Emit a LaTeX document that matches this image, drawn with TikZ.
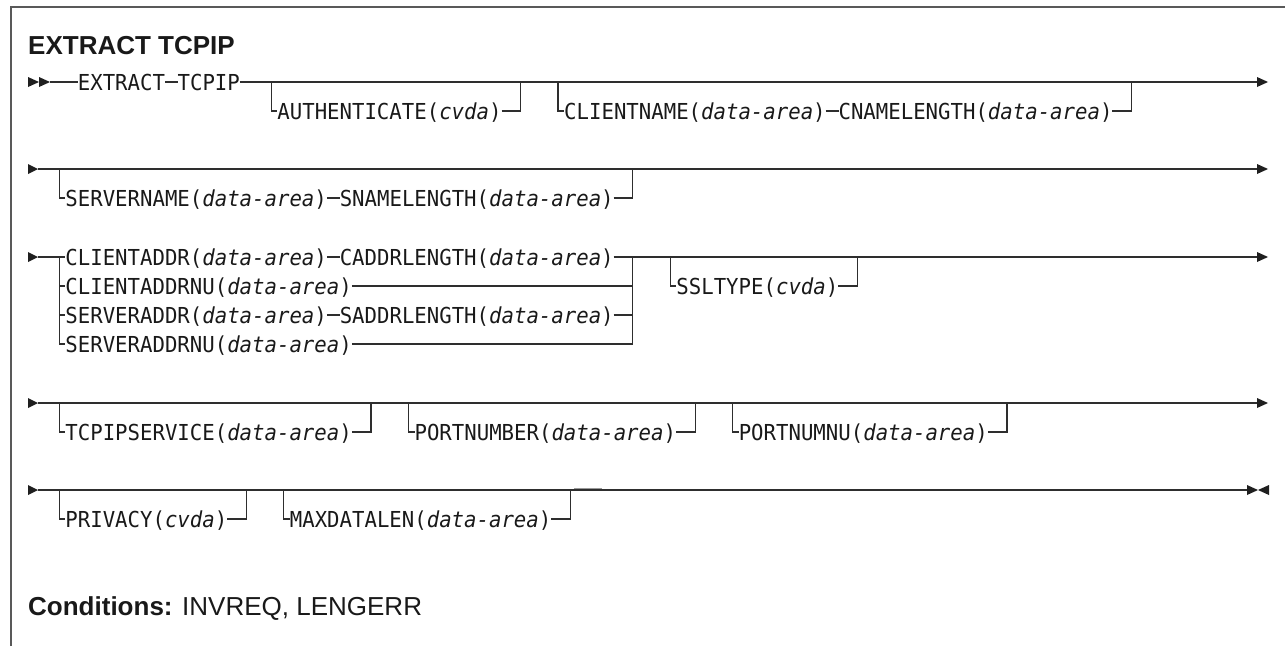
\documentclass[tikz,border=0pt]{standalone}
\usepackage{fontspec}
\setmainfont{Liberation Sans}
\newfontfamily\diagfont[FakeStretch=0.94]{DejaVu Sans Mono}
\newcommand\cellx[1]{28+12.47*(#1)}
\newcommand\cellm[1]{28+12.47*(#1+0.5)}
\newcommand\rarrow[3]{\fill[tri] ({#1},{#3-5}) -- ({#2},{#3}) -- ({#1},{#3+5}) -- cycle;}
\tikzset{
  ln/.style={line width=1.2pt, draw=black!82},
  lbl/.style={inner sep=0pt, outer sep=0pt, anchor=west, text height=16pt, text depth=0pt,
              font=\diagfont\fontsize{22}{26}\selectfont, text=black!90},
  tri/.style={fill=black!88},
  frameln/.style={line width=1.5pt, draw=black!65},
}
\begin{document}
\begin{tikzpicture}[x=1pt,y=-1pt]
\useasboundingbox (0,0) rectangle (1285,646);
% frame
\draw[frameln] (11,646) -- (11,7) -- (1285,7);
% title
\node[anchor=base west, inner sep=0pt, font=\bfseries\fontsize{26}{30}\selectfont, text=black!90] (title) at (28,54) {EXTRACT TCPIP};

% ---------- Row 1 ----------
\rarrow{28}{39}{82}\rarrow{39}{50}{82}
\coordinate (s1) at (50,82);
\coordinate (e1) at (1257,82);
\rarrow{1257}{1268}{82}
\node[lbl] (extract) at ({\cellx{4}},82) {EXTRACT};
\node[lbl] (tcpip) at ({\cellx{12}},82) {TCPIP};
\draw[ln] (s1) -- (extract.west);
\draw[ln] (extract.east) -- (tcpip.west);
\draw[ln] (tcpip.east) -- (e1);
\coordinate (a1) at ({\cellm{19}},82);
\coordinate (a2) at ({\cellm{39}},82);
\node[lbl] (auth) at ({\cellx{20}},111) {AUTHENTICATE(\textit{cvda})};
\draw[ln] (a1) |- (auth.west);
\draw[ln] (auth.east) -| (a2);
\coordinate (c1) at ({\cellm{42}},82);
\coordinate (c2) at ({\cellm{88}},82);
\node[lbl] (cname) at ({\cellx{43}},111) {CLIENTNAME(\textit{data-area})};
\node[lbl] (cnamelen) at ({\cellx{65}},111) {CNAMELENGTH(\textit{data-area})};
\draw[ln] (c1) |- (cname.west);
\draw[ln] (cname.east) -- (cnamelen.west);
\draw[ln] (cnamelen.east) -| (c2);

% ---------- Row 2 ----------
\rarrow{28}{38}{169}
\coordinate (s2) at (38,169);
\coordinate (e2) at (1257,169);
\rarrow{1257}{1268}{169}
\draw[ln] (s2) -- (e2);
\coordinate (b2a) at ({\cellm{2}},169);
\coordinate (b2b) at ({\cellm{48}},169);
\node[lbl] (sname) at ({\cellx{3}},198) {SERVERNAME(\textit{data-area})};
\node[lbl] (snamelen) at ({\cellx{25}},198) {SNAMELENGTH(\textit{data-area})};
\draw[ln] (b2a) |- (sname.west);
\draw[ln] (sname.east) -- (snamelen.west);
\draw[ln] (snamelen.east) -| (b2b);

% ---------- Row 3 ----------
\rarrow{28}{38}{257}
\coordinate (s3) at (38,257);
\coordinate (e3) at (1257,257);
\rarrow{1257}{1268}{257}
\coordinate (jL) at ({\cellm{2}},257);
\coordinate (jR) at ({\cellm{48}},257);
\node[lbl] (caddr) at ({\cellx{3}},257) {CLIENTADDR(\textit{data-area})};
\node[lbl] (caddrlen) at ({\cellx{25}},257) {CADDRLENGTH(\textit{data-area})};
\node[lbl] (caddrnu) at ({\cellx{3}},286) {CLIENTADDRNU(\textit{data-area})};
\node[lbl] (saddr) at ({\cellx{3}},315) {SERVERADDR(\textit{data-area})};
\node[lbl] (saddrlen) at ({\cellx{25}},315) {SADDRLENGTH(\textit{data-area})};
\node[lbl] (saddrnu) at ({\cellx{3}},344) {SERVERADDRNU(\textit{data-area})};
\draw[ln] (s3) -- (caddr.west);
\draw[ln] (caddr.east) -- (caddrlen.west);
\draw[ln] (caddrlen.east) -- (jR);
\draw[ln] (jL) |- (saddrnu.west);
\draw[ln] (jL |- caddrnu.west) -- (caddrnu.west);
\draw[ln] (jL |- saddr.west) -- (saddr.west);
\draw[ln] (caddrnu.east) -- (jR |- caddrnu.east);
\draw[ln] (saddr.east) -- (saddrlen.west);
\draw[ln] (saddrlen.east) -- (jR |- saddrlen.east);
\draw[ln] (saddrnu.east) -| (jR);
\draw[ln] (jR) -- (e3);
\coordinate (k1) at ({\cellm{51}},257);
\coordinate (k2) at ({\cellm{66}},257);
\node[lbl] (ssl) at ({\cellx{52}},286) {SSLTYPE(\textit{cvda})};
\draw[ln] (k1) |- (ssl.west);
\draw[ln] (ssl.east) -| (k2);

% ---------- Row 4 ----------
\rarrow{28}{38}{403}
\coordinate (s4) at (38,403);
\coordinate (e4) at (1257,403);
\rarrow{1257}{1268}{403}
\draw[ln] (s4) -- (e4);
\coordinate (t1) at ({\cellm{2}},403);
\coordinate (t2) at ({\cellm{27}},403);
\node[lbl] (tcpsvc) at ({\cellx{3}},432) {TCPIPSERVICE(\textit{data-area})};
\draw[ln] (t1) |- (tcpsvc.west);
\draw[ln] (tcpsvc.east) -| (t2);
\coordinate (p1) at ({\cellm{30}},403);
\coordinate (p2) at ({\cellm{53}},403);
\node[lbl] (portnum) at ({\cellx{31}},432) {PORTNUMBER(\textit{data-area})};
\draw[ln] (p1) |- (portnum.west);
\draw[ln] (portnum.east) -| (p2);
\coordinate (q1) at ({\cellm{56}},403);
\coordinate (q2) at ({\cellm{78}},403);
\node[lbl] (portnumnu) at ({\cellx{57}},432) {PORTNUMNU(\textit{data-area})};
\draw[ln] (q1) |- (portnumnu.west);
\draw[ln] (portnumnu.east) -| (q2);

% ---------- Row 5 ----------
\rarrow{28}{38}{490}
\coordinate (s5) at (38,490);
\coordinate (e5) at (1247,490);
\draw[ln] (s5) -- (e5);
\rarrow{1247}{1258}{490}
\fill[tri] (1269,485) -- (1258,490) -- (1269,495) -- cycle;
\coordinate (v1) at ({\cellm{2}},490);
\coordinate (v2) at ({\cellm{17}},490);
\node[lbl] (privacy) at ({\cellx{3}},519) {PRIVACY(\textit{cvda})};
\draw[ln] (v1) |- (privacy.west);
\draw[ln] (privacy.east) -| (v2);
\coordinate (m1) at ({\cellm{20}},490);
\coordinate (m2) at ({\cellm{43}},490);
\node[lbl] (maxdl) at ({\cellx{21}},519) {MAXDATALEN(\textit{data-area})};
\draw[ln] (m1) |- (maxdl.west);
\draw[ln] (maxdl.east) -| (m2);
\draw[line width=1.2pt, draw=black!40] (574,488.2) -- (602,488.2);

% conditions
\node[anchor=base west, inner sep=0pt, font=\fontsize{26}{30}\selectfont, text=black!90] (cond) at (28,615) {\textbf{Conditions:} INVREQ, LENGERR};
\end{tikzpicture}
\end{document}
